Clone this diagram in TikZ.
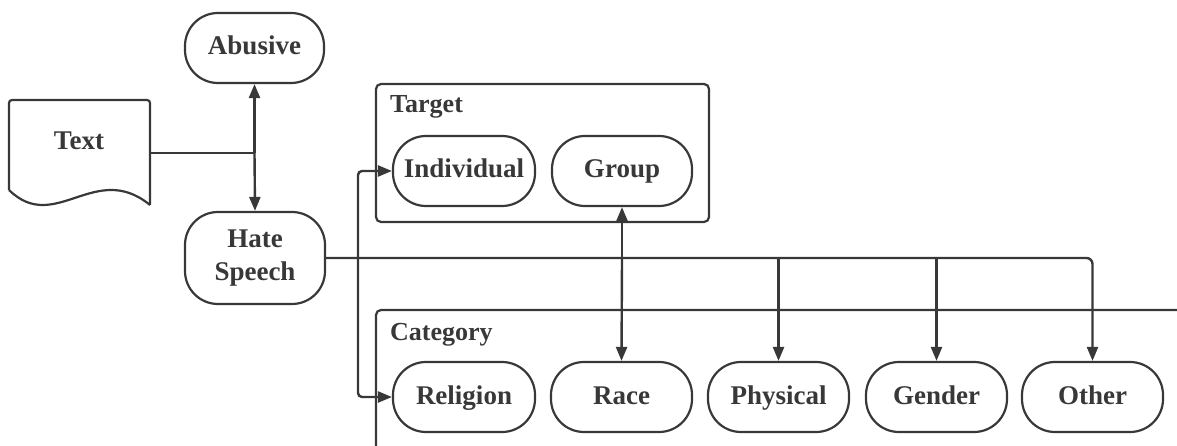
\documentclass[tikz,border=0pt]{standalone}
\usepackage{fontspec}
\setmainfont{Liberation Serif}
\usetikzlibrary{arrows.meta}
\definecolor{ink}{HTML}{383838}
\begin{document}
\begin{tikzpicture}[x=1pt,y=-1pt,
  ln/.style={draw=ink,line width=2.4pt},
  arr/.style={ln,-{Triangle[length=14pt,width=11pt]}},
  pillbase/.style={draw=ink,line width=2.2pt,rectangle,rounded corners=33pt,
    minimum width=140pt,minimum height=70pt,inner sep=0pt,align=center,
    text=ink,font=\fontsize{27}{33}\selectfont\bfseries},
  pill/.style={pillbase,text height=18pt,text depth=4pt},
  lbl/.style={text=ink,font=\fontsize{26}{33}\selectfont\bfseries,inner sep=0pt,anchor=west},
  grp/.style={draw=ink,line width=2.2pt,rounded corners=5pt}]
\useasboundingbox (0,0) rectangle (1177,446);
% containers
\draw[grp] (376,84) rectangle (709,222);
\node[lbl] (tlbl) at (390,107) {Target};
\draw[grp] (1177,310) -- (376,310) -- (376,446);
\node[lbl] (clbl) at (390,335) {Category};
% document
\node[draw=none,minimum width=141pt,minimum height=106pt] (doc) at (79.5,153) {};
\draw[draw=ink,line width=2.2pt,rounded corners=3pt] (9,190) -- (9,100) -- (150,100) -- (150,205);
\draw[draw=ink,line width=2.2pt] (150,205) .. controls (95,160) and (55,235) .. (9,190);
\node[text=ink,font=\fontsize{27}{33}\selectfont\bfseries,text height=18pt,text depth=4pt] (doctext) at (79,143) {Text};
% nodes
\node[pill,minimum width=139pt] (abusive) at (254.5,48) {Abusive};
\node[pillbase,minimum height=92pt] (hate) at (255,258) {Hate\\Speech};
\node[pill,minimum width=142pt] (individual) at (464,171) {Individual};
\node[pill] (group) at (622,171) {Group};
\node[pill,minimum width=142pt] (religion) at (464,397) {Religion};
\node[pill,minimum width=141pt] (race) at (621.5,397) {Race};
\node[pill,minimum width=141pt] (physical) at (778.5,397) {Physical};
\node[pill,minimum width=141pt] (gender) at (936.5,397) {Gender};
\node[pill,minimum width=141pt] (other) at (1092.5,397) {Other};
% junctions
\coordinate (j1) at (254.5,153);
\coordinate (jl) at (358,258);
\coordinate (jr) at (622,258);
% connectors
\draw[ln] (doc.east) -- (j1);
\draw[arr] (j1) -- (abusive.south);
\draw[arr] (j1) -- (hate.north);
\draw[arr,rounded corners=6pt] (hate.east) -| (other.north);
\draw[arr,rounded corners=4pt] (jl) |- (individual.west);
\draw[arr,rounded corners=4pt] (jl) |- (religion.west);
\draw[arr] (jr) -- (group.south);
\draw[arr] (jr) -- (race.north);
\draw[arr] (physical.north |- jr) -- (physical.north);
\draw[arr] (gender.north |- jr) -- (gender.north);
\end{tikzpicture}
\end{document}
